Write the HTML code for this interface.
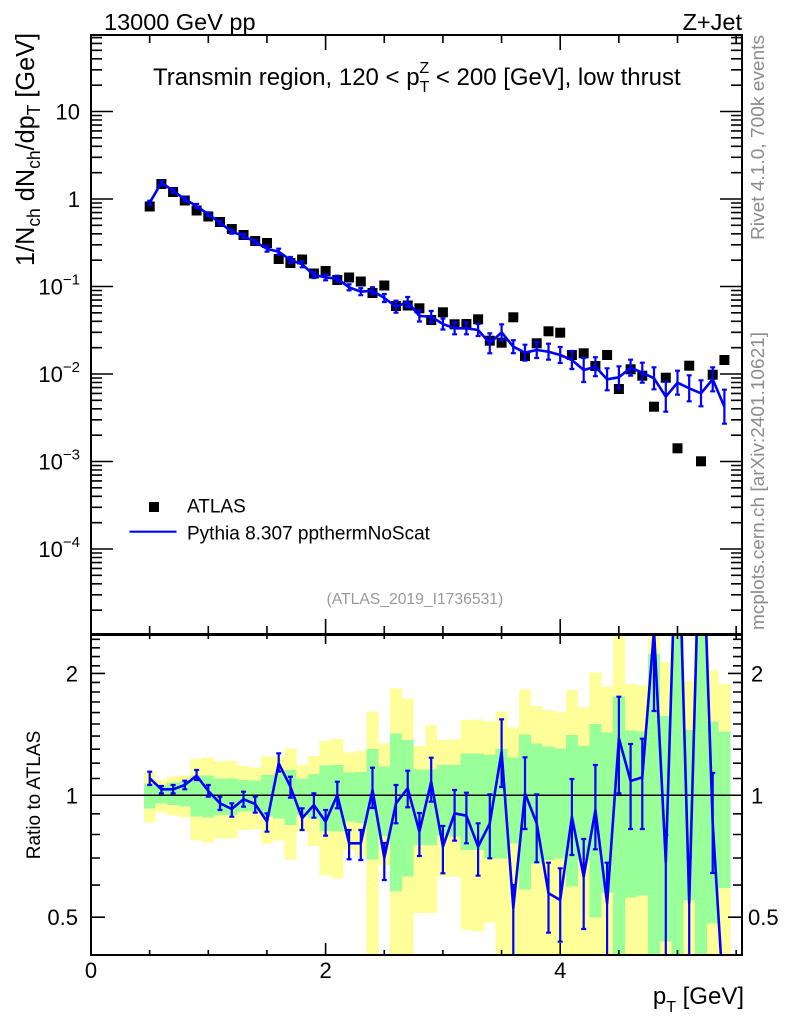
<!DOCTYPE html>
<html><head><meta charset="utf-8"><style>
html,body{margin:0;padding:0;background:#fff;}
svg{display:block;font-family:"Liberation Sans",Arial,sans-serif;}
</style></head><body>
<svg width="786" height="1024" viewBox="0 0 786 1024" xmlns="http://www.w3.org/2000/svg">
<defs>
<clipPath id="rc"><rect x="91" y="635" width="651" height="320"/></clipPath>
<clipPath id="mc"><rect x="91" y="35" width="651" height="599"/></clipPath>
</defs>
<g clip-path="url(#rc)" shape-rendering="crispEdges">
<g fill="#ffff99">
<rect x="143.8" y="771.7" width="11.8" height="50.6"/>
<rect x="155.5" y="780" width="11.8" height="32.7"/>
<rect x="167.2" y="776.7" width="11.8" height="39"/>
<rect x="179.0" y="775.7" width="11.8" height="41.6"/>
<rect x="190.7" y="759" width="11.8" height="81.7"/>
<rect x="202.4" y="757.7" width="11.8" height="84.6"/>
<rect x="214.2" y="761" width="11.8" height="77.3"/>
<rect x="225.9" y="761" width="11.8" height="77.3"/>
<rect x="237.6" y="766" width="11.8" height="64"/>
<rect x="249.4" y="767.3" width="11.8" height="61.7"/>
<rect x="261.1" y="756.7" width="11.8" height="86.6"/>
<rect x="272.8" y="756.7" width="11.8" height="84"/>
<rect x="284.5" y="748.3" width="11.8" height="111"/>
<rect x="296.3" y="765" width="11.8" height="66.7"/>
<rect x="308.0" y="756" width="11.8" height="90"/>
<rect x="319.7" y="741" width="11.8" height="134"/>
<rect x="331.5" y="739" width="11.8" height="139.3"/>
<rect x="343.2" y="752.7" width="11.8" height="97.3"/>
<rect x="354.9" y="751" width="11.8" height="105"/>
<rect x="366.7" y="711.7" width="11.8" height="243.3"/>
<rect x="378.4" y="743.3" width="11.8" height="121.7"/>
<rect x="390.1" y="688.3" width="11.8" height="266.7"/>
<rect x="401.8" y="698.3" width="11.8" height="256.7"/>
<rect x="413.6" y="746" width="11.8" height="167"/>
<rect x="425.3" y="725" width="11.8" height="188"/>
<rect x="437.0" y="740" width="11.8" height="136.7"/>
<rect x="448.8" y="739.3" width="11.8" height="137.4"/>
<rect x="460.5" y="720" width="11.8" height="210"/>
<rect x="472.2" y="719.3" width="11.8" height="212.4"/>
<rect x="484.0" y="721.7" width="11.8" height="201"/>
<rect x="495.7" y="711.7" width="11.8" height="243.3"/>
<rect x="507.4" y="727.3" width="11.8" height="227.7"/>
<rect x="519.1" y="689.3" width="11.8" height="265.7"/>
<rect x="530.9" y="706" width="11.8" height="249"/>
<rect x="542.6" y="710" width="11.8" height="245"/>
<rect x="554.3" y="712.7" width="11.8" height="242.3"/>
<rect x="566.1" y="690" width="11.8" height="265"/>
<rect x="577.8" y="707.3" width="11.8" height="247.7"/>
<rect x="589.5" y="672.7" width="11.8" height="282.3"/>
<rect x="601.3" y="686.7" width="11.8" height="268.3"/>
<rect x="613.0" y="634.7" width="11.8" height="320.3"/>
<rect x="624.7" y="684" width="11.8" height="271"/>
<rect x="636.4" y="685.7" width="11.8" height="269.3"/>
<rect x="648.2" y="634.7" width="11.8" height="320.3"/>
<rect x="659.9" y="662" width="11.8" height="293"/>
<rect x="671.6" y="634.7" width="11.8" height="320.3"/>
<rect x="683.4" y="681.7" width="11.8" height="273.3"/>
<rect x="695.1" y="634.7" width="11.8" height="320.3"/>
<rect x="706.8" y="670" width="11.8" height="285"/>
<rect x="718.6" y="684" width="11.7" height="271"/>
</g>
<g fill="#99ff99">
<rect x="143.8" y="783.3" width="11.8" height="25"/>
<rect x="155.5" y="785" width="11.8" height="18.3"/>
<rect x="167.2" y="782.7" width="11.8" height="22.3"/>
<rect x="179.0" y="781.7" width="11.8" height="25"/>
<rect x="190.7" y="775.7" width="11.8" height="41"/>
<rect x="202.4" y="775.7" width="11.8" height="42"/>
<rect x="214.2" y="778.3" width="11.8" height="36.7"/>
<rect x="225.9" y="778.3" width="11.8" height="36.7"/>
<rect x="237.6" y="780" width="11.8" height="31.7"/>
<rect x="249.4" y="780.7" width="11.8" height="31"/>
<rect x="261.1" y="775" width="11.8" height="41.7"/>
<rect x="272.8" y="773.3" width="11.8" height="45"/>
<rect x="284.5" y="770" width="11.8" height="55"/>
<rect x="296.3" y="778.3" width="11.8" height="36.7"/>
<rect x="308.0" y="774" width="11.8" height="44.3"/>
<rect x="319.7" y="765.7" width="11.8" height="65.3"/>
<rect x="331.5" y="765" width="11.8" height="66.7"/>
<rect x="343.2" y="772.7" width="11.8" height="49"/>
<rect x="354.9" y="772" width="11.8" height="51"/>
<rect x="366.7" y="749" width="11.8" height="110.3"/>
<rect x="378.4" y="766.7" width="11.8" height="69.3"/>
<rect x="390.1" y="733.3" width="11.8" height="158.4"/>
<rect x="401.8" y="740" width="11.8" height="136.7"/>
<rect x="413.6" y="769.3" width="11.8" height="75.7"/>
<rect x="425.3" y="769.3" width="11.8" height="75.7"/>
<rect x="437.0" y="765" width="11.8" height="70"/>
<rect x="448.8" y="765" width="11.8" height="71.7"/>
<rect x="460.5" y="753.3" width="11.8" height="96.7"/>
<rect x="472.2" y="753.3" width="11.8" height="96.7"/>
<rect x="484.0" y="755" width="11.8" height="103.3"/>
<rect x="495.7" y="749" width="11.8" height="109.3"/>
<rect x="507.4" y="757.7" width="11.8" height="85.6"/>
<rect x="519.1" y="734.3" width="11.8" height="155"/>
<rect x="530.9" y="743.3" width="11.8" height="120"/>
<rect x="542.6" y="746.7" width="11.8" height="113.3"/>
<rect x="554.3" y="748.3" width="11.8" height="110"/>
<rect x="566.1" y="735" width="11.8" height="151.7"/>
<rect x="577.8" y="746" width="11.8" height="114"/>
<rect x="589.5" y="724" width="11.8" height="193.3"/>
<rect x="601.3" y="732.7" width="11.8" height="160"/>
<rect x="613.0" y="696.7" width="11.8" height="258.3"/>
<rect x="624.7" y="730.7" width="11.8" height="166.6"/>
<rect x="636.4" y="731.7" width="11.8" height="164"/>
<rect x="648.2" y="654" width="11.8" height="301"/>
<rect x="659.9" y="716" width="11.8" height="225.7"/>
<rect x="671.6" y="634.7" width="11.8" height="320.3"/>
<rect x="683.4" y="730" width="11.8" height="170.7"/>
<rect x="695.1" y="634.7" width="11.8" height="320.3"/>
<rect x="706.8" y="721.7" width="11.8" height="201.6"/>
<rect x="718.6" y="731.7" width="11.7" height="156.3"/>
</g>
</g>
<path d="M91 795.3H742" stroke="#000" stroke-width="1.5" fill="none"/>
<g clip-path="url(#rc)" fill="none" stroke="#0000ff" stroke-width="2.6" stroke-linejoin="round">
<polyline points="149.7,778.3 161.4,789.3 173.1,789.3 184.8,785 196.6,775.7 208.3,791 220,803.3 231.8,809 243.5,799.3 255.2,804 267,821.7 278.7,763.3 290.4,786.7 302.1,818.3 313.9,805 325.6,821.7 337.3,795 349.1,843.3 360.8,843.3 372.5,790 384.3,858 396,803.3 407.7,788.3 419.4,831.7 431.2,781.7 442.9,846.7 454.6,813.3 466.4,815.7 478.1,846.7 489.8,823.3 501.6,751.7 513.3,908 525,793.3 536.7,823.3 548.5,893.3 560.2,900 571.9,816.7 583.7,876.7 595.4,810 607.1,903.3 618.9,738.3 630.6,781 642.3,777.3 654,630 665.8,862 677.5,490 689.2,903 701,479 712.7,823 724.4,1012"/>
<path stroke-width="2.2" d="M149.7 771.7V785M147.2 771.7h5M147.2 785h5M161.4 786V793.3M158.9 786h5M158.9 793.3h5M173.1 785V793.3M170.6 785h5M170.6 793.3h5M184.8 780.7V789.3M182.3 780.7h5M182.3 789.3h5M196.6 770V780M194.1 770h5M194.1 780h5M208.3 785V796.7M205.8 785h5M205.8 796.7h5M220 796.7V810M217.5 796.7h5M217.5 810h5M231.8 803.3V816.7M229.3 803.3h5M229.3 816.7h5M243.5 791.7V806.7M241 791.7h5M241 806.7h5M255.2 796.7V812.7M252.7 796.7h5M252.7 812.7h5M267 813.3V831.7M264.5 813.3h5M264.5 831.7h5M278.7 753.3V771.7M276.2 753.3h5M276.2 771.7h5M290.4 776.7V797.7M287.9 776.7h5M287.9 797.7h5M302.1 808.3V830M299.6 808.3h5M299.6 830h5M313.9 793.3V817.7M311.4 793.3h5M311.4 817.7h5M325.6 810V835.7M323.1 810h5M323.1 835.7h5M337.3 781.7V808.3M334.8 781.7h5M334.8 808.3h5M349.1 830V859.3M346.6 830h5M346.6 859.3h5M360.8 830V860M358.3 830h5M358.3 860h5M372.5 767.7V808M370 767.7h5M370 808h5M384.3 843V880M381.8 843h5M381.8 880h5M396 785V823.3M393.5 785h5M393.5 823.3h5M407.7 770.7V807.3M405.2 770.7h5M405.2 807.3h5M419.4 813V856M416.9 813h5M416.9 856h5M431.2 757.7V801.7M428.7 757.7h5M428.7 801.7h5M442.9 826V873.3M440.4 826h5M440.4 873.3h5M454.6 790V840.7M452.1 790h5M452.1 840.7h5M466.4 792.7V843.3M463.9 792.7h5M463.9 843.3h5M478.1 823.3V875.7M475.6 823.3h5M475.6 875.7h5M489.8 794.3V858.3M487.3 794.3h5M487.3 858.3h5M501.6 719.3V787M499.1 719.3h5M499.1 787h5M513.3 885V962M510.8 885h5M525 757.3V829M522.5 757.3h5M522.5 829h5M536.7 794.3V862.3M534.2 794.3h5M534.2 862.3h5M548.5 862.7V932.7M546 862.7h5M546 932.7h5M560.2 868.3V941.7M557.7 868.3h5M557.7 941.7h5M571.9 779V855M569.4 779h5M569.4 855h5M583.7 839V929M581.2 839h5M581.2 929h5M595.4 765V849.3M592.9 765h5M592.9 849.3h5M607.1 862.7V962M604.6 862.7h5M618.9 696.7V793.3M616.4 696.7h5M616.4 793.3h5M630.6 744V829M628.1 744h5M628.1 829h5M642.3 738.7V829M639.8 738.7h5M639.8 829h5M654 560V711M651.5 711h5M665.8 835V962M663.3 835h5M689.2 857V962M686.7 857h5M712.7 773V873M710.2 773h5M710.2 873h5"/>
</g>
<g fill="#000">
<rect x="144.7" y="201.5" width="10" height="10"/>
<rect x="156.4" y="179" width="10" height="10"/>
<rect x="168.1" y="187" width="10" height="10"/>
<rect x="179.8" y="195.5" width="10" height="10"/>
<rect x="191.6" y="205.5" width="10" height="10"/>
<rect x="203.3" y="211.5" width="10" height="10"/>
<rect x="215" y="217" width="10" height="10"/>
<rect x="226.8" y="224" width="10" height="10"/>
<rect x="238.5" y="230" width="10" height="10"/>
<rect x="250.2" y="236" width="10" height="10"/>
<rect x="262" y="238" width="10" height="10"/>
<rect x="273.7" y="254" width="10" height="10"/>
<rect x="285.4" y="258" width="10" height="10"/>
<rect x="297.1" y="254.5" width="10" height="10"/>
<rect x="308.9" y="268.5" width="10" height="10"/>
<rect x="320.6" y="266" width="10" height="10"/>
<rect x="332.3" y="275" width="10" height="10"/>
<rect x="344.1" y="272.5" width="10" height="10"/>
<rect x="355.8" y="276.5" width="10" height="10"/>
<rect x="367.5" y="288" width="10" height="10"/>
<rect x="379.3" y="280.5" width="10" height="10"/>
<rect x="391" y="301" width="10" height="10"/>
<rect x="402.7" y="300.5" width="10" height="10"/>
<rect x="414.4" y="303.3" width="10" height="10"/>
<rect x="426.2" y="315" width="10" height="10"/>
<rect x="437.9" y="307.3" width="10" height="10"/>
<rect x="449.6" y="319.3" width="10" height="10"/>
<rect x="461.4" y="319" width="10" height="10"/>
<rect x="473.1" y="314.3" width="10" height="10"/>
<rect x="484.8" y="335.7" width="10" height="10"/>
<rect x="496.6" y="337.7" width="10" height="10"/>
<rect x="508.3" y="312.3" width="10" height="10"/>
<rect x="520" y="351" width="10" height="10"/>
<rect x="531.7" y="338.3" width="10" height="10"/>
<rect x="543.5" y="326.3" width="10" height="10"/>
<rect x="555.2" y="327.7" width="10" height="10"/>
<rect x="566.9" y="350" width="10" height="10"/>
<rect x="578.7" y="348.3" width="10" height="10"/>
<rect x="590.4" y="361" width="10" height="10"/>
<rect x="602.1" y="350" width="10" height="10"/>
<rect x="613.9" y="384" width="10" height="10"/>
<rect x="625.6" y="364.3" width="10" height="10"/>
<rect x="637.3" y="370.7" width="10" height="10"/>
<rect x="649" y="401.7" width="10" height="10"/>
<rect x="660.8" y="372.7" width="10" height="10"/>
<rect x="672.5" y="443.3" width="10" height="10"/>
<rect x="684.2" y="360.7" width="10" height="10"/>
<rect x="696" y="456.3" width="10" height="10"/>
<rect x="707.7" y="369.7" width="10" height="10"/>
<rect x="719.4" y="355" width="10" height="10"/>
</g>
<g fill="none" stroke="#0000ff" stroke-linejoin="round" clip-path="url(#mc)">
<polyline stroke-width="2.6" points="149.7,202.7 161.4,182.7 173.1,190.7 184.8,199.3 196.6,206 208.3,214.3 220,222.7 231.8,231.7 243.5,236 255.2,242 267,248.7 278.7,251.7 290.4,260 302.1,264.3 313.9,275 325.6,277.3 337.3,278.7 349.1,287.3 360.8,291.7 372.5,290.7 384.3,298 396,306.7 407.7,302 419.4,316 431.2,316.7 442.9,324 454.6,328.3 466.4,328.3 478.1,330 489.8,343.3 501.6,332.3 513.3,346.7 525,352.7 536.7,350 548.5,351.7 560.2,355 571.9,360 583.7,370 595.4,366.7 607.1,379.3 618.9,377.3 630.6,367.7 642.3,372.7 654,378.3 665.8,396.7 677.5,382.7 689.2,388.3 701,393.3 712.7,379.3 724.4,406.7"/>
<path stroke-width="2.2" d="M149.7 200.7V204.7M147.2 200.7h5M147.2 204.7h5M161.4 180.7V184.7M158.9 180.7h5M158.9 184.7h5M173.1 188.7V192.7M170.6 188.7h5M170.6 192.7h5M184.8 197.3V201.3M182.3 197.3h5M182.3 201.3h5M196.6 204V208M194.1 204h5M194.1 208h5M208.3 212.3V216.3M205.8 212.3h5M205.8 216.3h5M220 220.7V224.7M217.5 220.7h5M217.5 224.7h5M231.8 229.7V233.7M229.3 229.7h5M229.3 233.7h5M243.5 234V238M241 234h5M241 238h5M255.2 240V244M252.7 240h5M252.7 244h5M267 245.7V251.7M264.5 245.7h5M264.5 251.7h5M278.7 248.7V254.7M276.2 248.7h5M276.2 254.7h5M290.4 257V263M287.9 257h5M287.9 263h5M302.1 261.3V267.3M299.6 261.3h5M299.6 267.3h5M313.9 272V278M311.4 272h5M311.4 278h5M325.6 274.3V280.3M323.1 274.3h5M323.1 280.3h5M337.3 275.7V281.7M334.8 275.7h5M334.8 281.7h5M349.1 284.3V290.3M346.6 284.3h5M346.6 290.3h5M360.8 288.2V295.2M358.3 288.2h5M358.3 295.2h5M372.5 287.2V294.2M370 287.2h5M370 294.2h5M384.3 294V302M381.8 294h5M381.8 302h5M396 300.7V312.7M393.5 300.7h5M393.5 312.7h5M407.7 297V307M405.2 297h5M405.2 307h5M419.4 310.5V321.5M416.9 310.5h5M416.9 321.5h5M431.2 311V322.4M428.7 311h5M428.7 322.4h5M442.9 318.5V329.5M440.4 318.5h5M440.4 329.5h5M454.6 322.3V334.3M452.1 322.3h5M452.1 334.3h5M466.4 322.3V334.3M463.9 322.3h5M463.9 334.3h5M478.1 324V336M475.6 324h5M475.6 336h5M489.8 333.3V353.3M487.3 333.3h5M487.3 353.3h5M501.6 324.3V340.3M499.1 324.3h5M499.1 340.3h5M513.3 340.2V353.2M510.8 340.2h5M510.8 353.2h5M525 344.7V360.7M522.5 344.7h5M522.5 360.7h5M536.7 342V358M534.2 342h5M534.2 358h5M548.5 343.7V359.7M546 343.7h5M546 359.7h5M560.2 347V363M557.7 347h5M557.7 363h5M571.9 351V369M569.4 351h5M569.4 369h5M583.7 358V382M581.2 358h5M581.2 382h5M595.4 357.2V376.2M592.9 357.2h5M592.9 376.2h5M607.1 368.3V390.3M604.6 368.3h5M604.6 390.3h5M618.9 366.3V388.3M616.4 366.3h5M616.4 388.3h5M630.6 359.7V375.7M628.1 359.7h5M628.1 375.7h5M642.3 362.7V382.7M639.8 362.7h5M639.8 382.7h5M654 367.3V389.3M651.5 367.3h5M651.5 389.3h5M665.8 381.7V411.7M663.3 381.7h5M663.3 411.7h5M677.5 370.7V394.7M675 370.7h5M675 394.7h5M689.2 375.3V401.3M686.7 375.3h5M686.7 401.3h5M701 380.3V406.3M698.5 380.3h5M698.5 406.3h5M712.7 367.3V391.3M710.2 367.3h5M710.2 391.3h5M724.4 389.7V423.7M721.9 389.7h5M721.9 423.7h5"/>
</g>
<rect x="91" y="35" width="651" height="599" fill="none" stroke="#000" stroke-width="2"/>
<rect x="91" y="635" width="651" height="320" fill="none" stroke="#000" stroke-width="2"/>
<g stroke="#000" stroke-width="1.6" fill="none">
<g id="lt">
<path d="M91 111.5h22M91 199h22M91 286.5h22M91 374h22M91 461.5h22M91 549h22"/>
<path d="M91 85.2h11M91 69.8h11M91 58.8h11M91 50.3h11M91 43.4h11M91 37.6h11M91 172.7h11M91 157.3h11M91 146.3h11M91 137.8h11M91 130.9h11M91 125.1h11M91 120h11M91 115.5h11M91 260.2h11M91 244.8h11M91 233.8h11M91 225.3h11M91 218.4h11M91 212.6h11M91 207.5h11M91 203h11M91 347.7h11M91 332.3h11M91 321.3h11M91 312.8h11M91 305.9h11M91 300.1h11M91 295h11M91 290.5h11M91 435.2h11M91 419.8h11M91 408.8h11M91 400.3h11M91 393.4h11M91 387.6h11M91 382.5h11M91 378h11M91 522.7h11M91 507.3h11M91 496.3h11M91 487.8h11M91 480.9h11M91 475.1h11M91 470h11M91 465.5h11M91 610.2h11M91 594.8h11M91 583.8h11M91 575.3h11M91 568.4h11M91 562.6h11M91 557.5h11M91 553h11"/>
<path d="M91 673.4h14M91 917.2h14M91 885.1h9M91 858h9M91 834.5h9M91 813.8h9M91 778.5h9M91 763.2h9M91 749.2h9M91 736.1h9M91 724h9M91 712.6h9M91 702h9M91 692h9M91 682.4h9M91 665.8h9M91 656.6h9M91 647.8h9M91 639.3h9"/>
</g>
<use href="#lt" transform="matrix(-1 0 0 1 833 0)"/>
<g id="tt">
<path d="M325.6 35v15M560.2 35v15M149.65 35v8M208.3 35v8M266.95 35v8M384.25 35v8M442.9 35v8M501.55 35v8M618.85 35v8M677.5 35v8M736.15 35v8"/>
</g>
<use href="#tt" transform="matrix(1 0 0 -1 0 669)"/>
<path d="M325.6 635v9M560.2 635v9M149.65 635v4M208.3 635v4M266.95 635v4M384.25 635v4M442.9 635v4M501.55 635v4M618.85 635v4M677.5 635v4M736.15 635v4"/>
<path d="M325.6 955v-12M560.2 955v-12M149.65 955v-5M208.3 955v-5M266.95 955v-5M384.25 955v-5M442.9 955v-5M501.55 955v-5M618.85 955v-5M677.5 955v-5M736.15 955v-5"/>
</g>
<g fill="#000">
<text x="104" y="30" font-size="23.5">13000 GeV pp</text>
<text x="742" y="30" font-size="23.5" text-anchor="end">Z+Jet</text>
<text x="153" y="85" font-size="24">Transmin region, 120 &lt; p<tspan font-size="16" dy="7">T</tspan><tspan font-size="16" dx="-10" dy="-19">Z</tspan><tspan dy="12"> &lt; 200 [GeV], low thrust</tspan></text>
<text transform="translate(34,266) rotate(-90)" font-size="26" textLength="233" lengthAdjust="spacingAndGlyphs">1/N<tspan font-size="18" dy="6">ch</tspan><tspan dy="-6"> dN</tspan><tspan font-size="18" dy="6">ch</tspan><tspan dy="-6">/dp</tspan><tspan font-size="18" dy="6">T</tspan><tspan dy="-6"> [GeV]</tspan></text>
<g font-size="22" text-anchor="end">
<text x="80" y="119.5">10</text>
<text x="80" y="207">1</text>
<text x="80" y="294.5">10<tspan font-size="15" dy="-10">−1</tspan></text>
<text x="80" y="382">10<tspan font-size="15" dy="-10">−2</tspan></text>
<text x="80" y="469.5">10<tspan font-size="15" dy="-10">−3</tspan></text>
<text x="80" y="557">10<tspan font-size="15" dy="-10">−4</tspan></text>
<text x="78" y="681.4">2</text>
<text x="78" y="803.3">1</text>
<text x="78" y="925">0.5</text>
</g>
<g font-size="22">
<text x="751" y="681.4">2</text>
<text x="751" y="803.3">1</text>
<text x="748" y="925">0.5</text>
</g>
<g font-size="22" text-anchor="middle">
<text x="91" y="978">0</text>
<text x="325.6" y="978">2</text>
<text x="560.2" y="978">4</text>
</g>
<text x="744" y="1004" font-size="24" text-anchor="end">p<tspan font-size="16" dy="8">T</tspan><tspan dy="-8"> [GeV]</tspan></text>
<text transform="translate(40,795) rotate(-90)" font-size="19" text-anchor="middle">Ratio to ATLAS</text>
<rect x="149" y="502" width="10" height="10"/>
<text x="187" y="512.5" font-size="19">ATLAS</text>
<path d="M129.5 531.7H176.5" stroke="#0000ff" stroke-width="2.2"/>
<text x="187" y="539.5" font-size="19">Pythia 8.307 ppthermNoScat</text>
</g>
<text x="326.5" y="604" font-size="15.7" fill="#999">(ATLAS_2019_I1736531)</text>
<text transform="translate(764,240) rotate(-90)" font-size="18.5" fill="#8c8c8c" textLength="205" lengthAdjust="spacingAndGlyphs">Rivet 4.1.0,  700k events</text>
<text transform="translate(764,630) rotate(-90)" font-size="18.5" fill="#8c8c8c" textLength="298" lengthAdjust="spacingAndGlyphs">mcplots.cern.ch [arXiv:2401.10621]</text>
</svg>
</body></html>
